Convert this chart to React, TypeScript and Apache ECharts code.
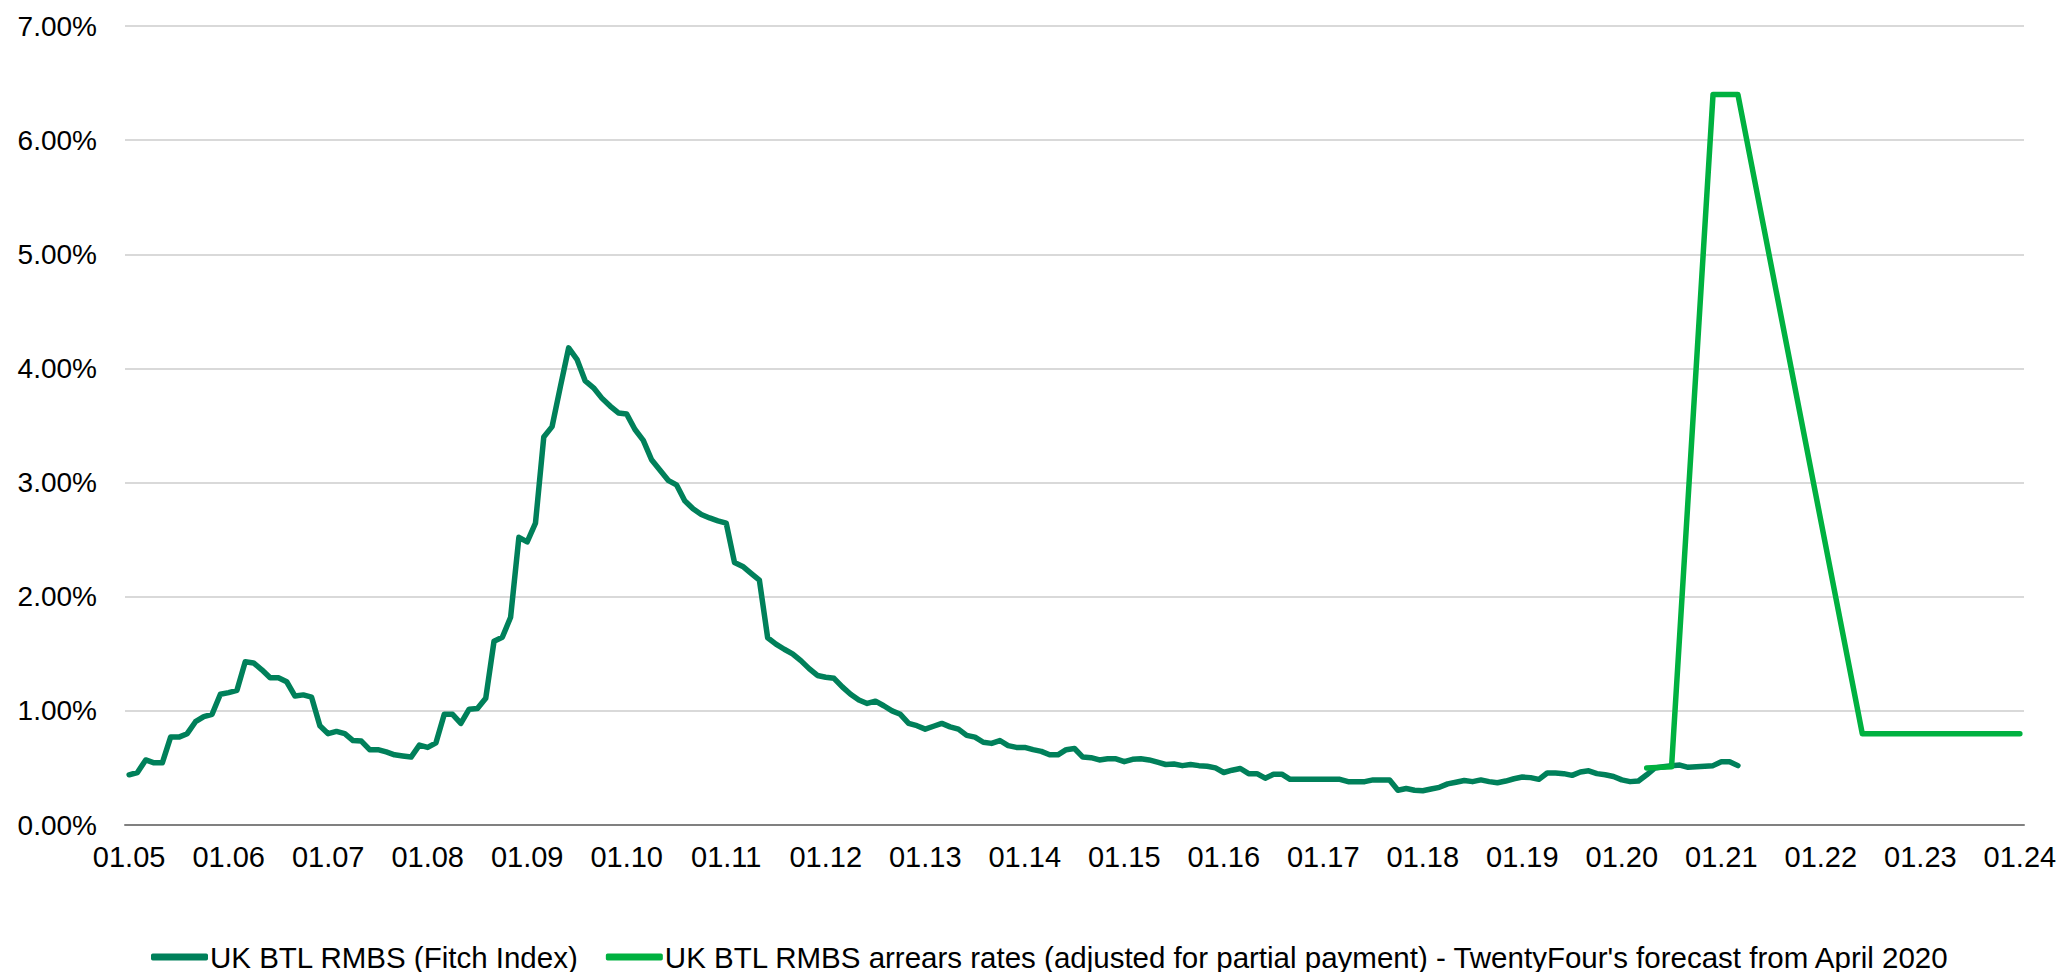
import React, { useEffect, useRef } from "react";
import * as echarts from "echarts";

// Monthly category labels "MM.YY" from 01.05 to 01.24
const startYear = 2005;
const endYear = 2024;
const categories: string[] = [];
for (let y = startYear; y <= endYear; y++) {
  for (let m = 1; m <= 12; m++) {
    if (y === endYear && m > 1) break;
    categories.push(String(m).padStart(2, "0") + "." + String(y % 100).padStart(2, "0"));
  }
}

// UK BTL RMBS (Fitch Index), monthly from 01.05, in %
const fitch2005_2008 = [
  0.44, 0.46, 0.57, 0.545, 0.545, 0.77, 0.77, 0.8, 0.905, 0.95, 0.97, 1.145,
  1.16, 1.18, 1.43, 1.42, 1.36, 1.29, 1.29, 1.255, 1.13, 1.14, 1.12, 0.87,
  0.8, 0.82, 0.8, 0.74, 0.735, 0.66, 0.66, 0.64, 0.615, 0.605, 0.595, 0.7,
  0.68, 0.72, 0.97, 0.97, 0.89, 1.015, 1.02, 1.11, 1.61, 1.645, 1.82, 2.52,
];
const fitch2009_2012 = [
  2.48, 2.645, 3.4, 3.49, 3.84, 4.18, 4.08, 3.89, 3.83, 3.74, 3.67, 3.61,
  3.6, 3.465, 3.37, 3.2, 3.11, 3.02, 2.98, 2.84, 2.77, 2.72, 2.69, 2.665,
  2.645, 2.3, 2.265, 2.205, 2.145, 1.64, 1.585, 1.54, 1.5, 1.44, 1.37, 1.31,
  1.295, 1.285, 1.21, 1.145, 1.095, 1.065, 1.085, 1.045, 1.0, 0.97, 0.89, 0.87,
];
const fitch2013_2016 = [
  0.84, 0.865, 0.89, 0.86, 0.84, 0.785, 0.77, 0.725, 0.715, 0.74, 0.695, 0.68,
  0.68, 0.66, 0.645, 0.615, 0.615, 0.66, 0.67, 0.595, 0.59, 0.57, 0.58, 0.58,
  0.555, 0.575, 0.58, 0.57, 0.55, 0.53, 0.535, 0.52, 0.53, 0.52, 0.515, 0.5,
  0.46, 0.48, 0.495, 0.45, 0.45, 0.41, 0.445, 0.445, 0.4, 0.4, 0.4, 0.4,
];
const fitch2017_2021 = [
  0.4, 0.4, 0.4, 0.38, 0.38, 0.38, 0.395, 0.395, 0.395, 0.305, 0.32, 0.305,
  0.3, 0.315, 0.33, 0.36, 0.375, 0.39, 0.38, 0.395, 0.38, 0.37, 0.385, 0.405,
  0.42, 0.415, 0.4, 0.455, 0.455, 0.45, 0.435, 0.465, 0.475, 0.45, 0.44, 0.425,
  0.395, 0.38, 0.385, 0.44, 0.5, 0.51, 0.52, 0.525, 0.505, 0.51, 0.515, 0.52,
  0.555, 0.555, 0.52,
];
const fitchIndex = [...fitch2005_2008, ...fitch2009_2012, ...fitch2013_2016, ...fitch2017_2021];

// TwentyFour's forecast from April 2020 (points joined by straight lines)
const forecastDates = ["04.20", "07.20", "12.20", "03.21", "06.22", "01.24"];
const forecastValues = [0.5, 0.51, 6.4, 6.4, 0.8, 0.8];

const seriesNames = [
  "UK BTL RMBS (Fitch Index)",
  "UK BTL RMBS arrears rates (adjusted for partial payment) - TwentyFour's forecast from April 2020",
];

const FONT = "'Liberation Sans', Arial, sans-serif";

export default function App() {
  const ref = useRef<HTMLDivElement>(null);

  useEffect(() => {
    document.body.style.margin = "0";
    if (!ref.current) return;
    const chart = echarts.init(ref.current, undefined, { renderer: "svg" });

    const forecastData: (number | null)[] = categories.map(() => null);
    forecastDates.forEach((d, k) => {
      const idx = categories.indexOf(d);
      if (idx >= 0) forecastData[idx] = forecastValues[k];
    });

    chart.setOption({
      animation: false,
      backgroundColor: "#ffffff",
      textStyle: { fontFamily: FONT },
      grid: { left: 125, right: 36, top: 26, bottom: 147, containLabel: false },
      legend: {
        top: 937,
        left: 146,
        itemWidth: 57,
        itemHeight: 7,
        itemGap: 27,
        icon: "roundRect",
        textStyle: { fontSize: 29.5, color: "#000", fontFamily: FONT, padding: [0, 0, 0, -3] },
        data: seriesNames,
      },
      xAxis: {
        type: "category",
        data: categories,
        boundaryGap: true,
        axisTick: { show: false },
        axisLine: { lineStyle: { color: "#808080", width: 2 } },
        axisLabel: {
          interval: 11,
          fontSize: 29,
          color: "#000",
          margin: 17,
          fontFamily: FONT,
        },
        splitLine: { show: false },
      },
      yAxis: {
        type: "value",
        min: 0,
        max: 7,
        interval: 1,
        axisLine: { show: false },
        axisTick: { show: false },
        axisLabel: {
          fontSize: 28,
          color: "#000",
          margin: 28,
          fontFamily: FONT,
          formatter: (v: number) => v.toFixed(2) + "%",
        },
        splitLine: { lineStyle: { color: "#D9D9D9", width: 2 } },
      },
      series: [
        {
          name: seriesNames[0],
          type: "line",
          data: fitchIndex,
          symbol: "none",
          color: "#00805A",
          lineStyle: { width: 5.5, color: "#00805A", join: "round", cap: "round" },
        },
        {
          name: seriesNames[1],
          type: "line",
          data: forecastData,
          connectNulls: true,
          symbol: "none",
          color: "#00B140",
          lineStyle: { width: 5.5, color: "#00B140", join: "round", cap: "round" },
        },
      ],
    });

    return () => chart.dispose();
  }, []);

  return <div ref={ref} style={{ width: 2060, height: 972 }} />;
}
